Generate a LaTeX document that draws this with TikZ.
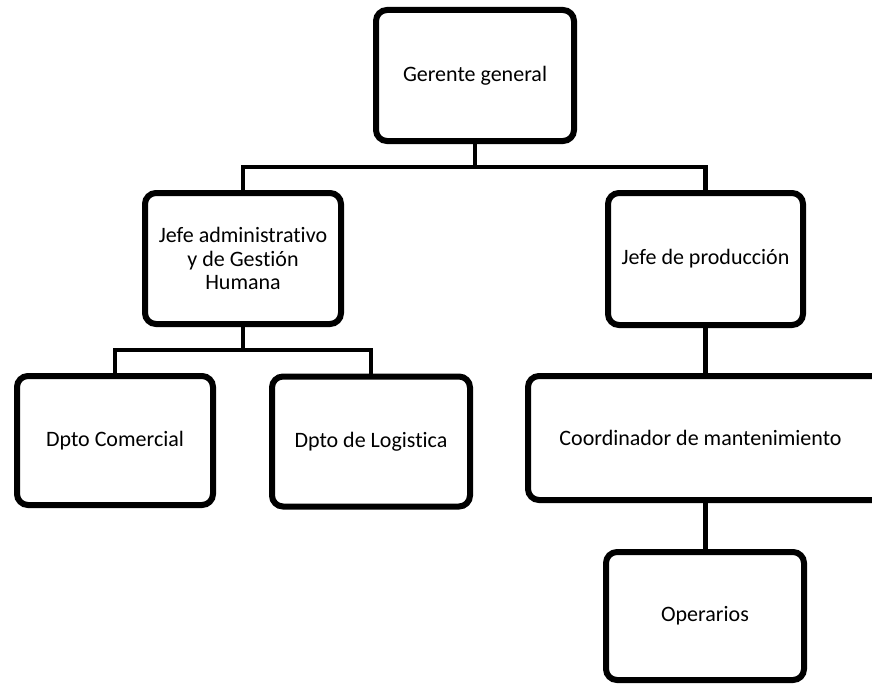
\documentclass[tikz,border=0pt]{standalone}
\usepackage{fontspec}
\setmainfont{Carlito}[Ligatures=NoCommon]
\usetikzlibrary{shadows}
\tikzset{unit/.style={draw, line width=6pt, rounded corners=11pt, fill=white, align=center,
    minimum width=198pt, minimum height=130pt, inner sep=2pt,
    font=\fontsize{22}{23.5}\selectfont,
    drop shadow={shadow xshift=1.5pt, shadow yshift=-2pt, opacity=0.25, fill=black}},
  link/.style={line width=4.5pt}}

\begin{document}
\begin{tikzpicture}[x=1pt, y=-1pt]
            \clip (0,0) rectangle (872,685);
            \node[unit, minimum height=131pt] (gerente) at (475,75.5) {Gerente general};
            \node[unit, minimum width=196pt, minimum height=131pt] (admin) at (243,258.5) {Jefe administrativo\\y de Gesti\'on\\Humana};
            \node[unit, minimum width=195pt, minimum height=132pt] (prod) at (705.5,259) {Jefe de producci\'on};
            \node[unit, minimum width=196pt, minimum height=129pt] (comercial) at (115,440.5) {Dpto Comercial};
            \node[unit] (logistica) at (371,441.5) {Dpto de Logistica};
            \node[unit, minimum width=357pt, minimum height=124pt] (coord) at (706.5,438) {Coordinador de mantenimiento\hspace*{12pt}};
            \node[unit, minimum height=128pt] (operarios) at (705,616) {Operarios};
            \coordinate (bus) at (475,167); \coordinate (subbus) at (243,350);
            % Connectors between the boxes
            \draw[link] (gerente.south) -- (bus);
            \draw[link] (admin.north) |- (bus) -| (prod.north);
            \draw[link] (admin.south) -- (subbus);
            \draw[link] (comercial.north) |- (subbus) -| (logistica.north);
            \draw[link] (prod.south) -- (prod.south |- coord.north);
            \draw[link] (prod.south |- coord.south) -- (prod.south |- operarios.north);
        \end{tikzpicture}
\end{document}
